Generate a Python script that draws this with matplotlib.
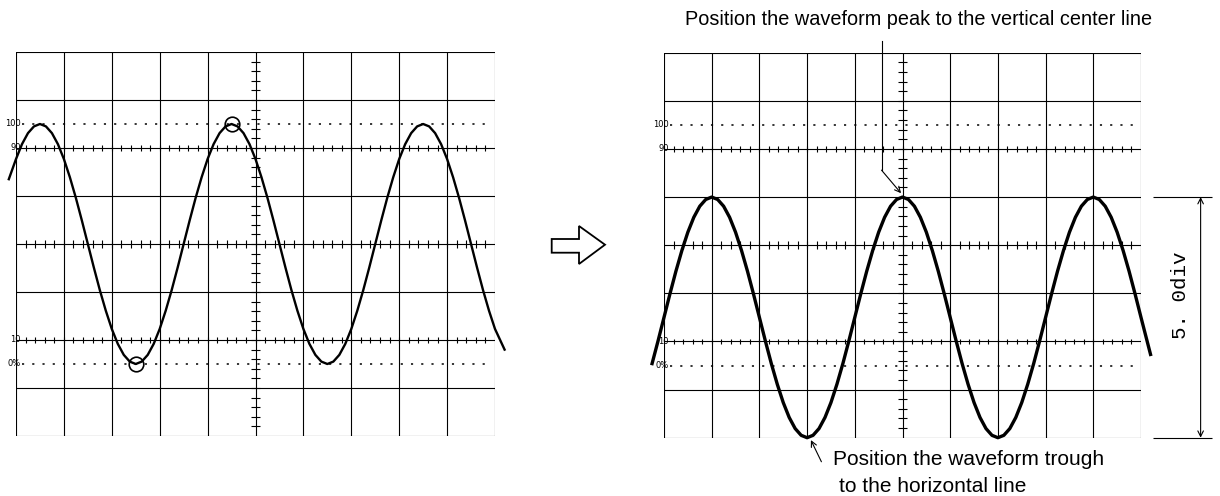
import matplotlib
matplotlib.use("Agg")
import numpy as np
import matplotlib.pyplot as plt
from matplotlib.patches import Polygon

# Oscilloscope screen: 10 x 8 divisions, y in div from the centre line
n_xdiv = 10
n_ydiv = 8

level_labels = ["100", "90", "10", "0%"]
level_values = [2.5, 2.0, -2.0, -2.5]

# left screen, waveform before adjustment (read at 1/8 div steps)
left_x = [-0.15,
          0.0, 0.125, 0.25, 0.375, 0.5, 0.625, 0.75, 0.875,
          1.0, 1.125, 1.25, 1.375, 1.5, 1.625, 1.75, 1.875,
          2.0, 2.125, 2.25, 2.375, 2.5, 2.625, 2.75, 2.875,
          3.0, 3.125, 3.25, 3.375, 3.5, 3.625, 3.75, 3.875,
          4.0, 4.125, 4.25, 4.375, 4.5, 4.625, 4.75, 4.875,
          5.0, 5.125, 5.25, 5.375, 5.5, 5.625, 5.75, 5.875,
          6.0, 6.125, 6.25, 6.375, 6.5, 6.625, 6.75, 6.875,
          7.0, 7.125, 7.25, 7.375, 7.5, 7.625, 7.75, 7.875,
          8.0, 8.125, 8.25, 8.375, 8.5, 8.625, 8.75, 8.875,
          9.0, 9.125, 9.25, 9.375, 9.5, 9.625, 9.75, 9.875,
          10.0, 10.2]
left_y = [1.35,
          1.77, 2.08, 2.31, 2.45, 2.5, 2.45, 2.31, 2.08,
          1.77, 1.39, 0.96, 0.49, 0.0, -0.49, -0.96, -1.39,
          -1.77, -2.08, -2.31, -2.45, -2.5, -2.45, -2.31, -2.08,
          -1.77, -1.39, -0.96, -0.49, 0.0, 0.49, 0.96, 1.39,
          1.77, 2.08, 2.31, 2.45, 2.5, 2.45, 2.31, 2.08,
          1.77, 1.39, 0.96, 0.49, 0.0, -0.49, -0.96, -1.39,
          -1.77, -2.08, -2.31, -2.45, -2.5, -2.45, -2.31, -2.08,
          -1.77, -1.39, -0.96, -0.49, 0.0, 0.49, 0.96, 1.39,
          1.77, 2.08, 2.31, 2.45, 2.5, 2.45, 2.31, 2.08,
          1.77, 1.39, 0.96, 0.49, 0.0, -0.49, -0.96, -1.39,
          -1.77, -2.2]

# circled peak / trough on the left screen
circle_x = [4.5, 2.5]
circle_y = [2.5, -2.5]

# right screen, waveform after adjustment
right_x = [-0.25, -0.125,
           0.0, 0.125, 0.25, 0.375, 0.5, 0.625, 0.75, 0.875,
           1.0, 1.125, 1.25, 1.375, 1.5, 1.625, 1.75, 1.875,
           2.0, 2.125, 2.25, 2.375, 2.5, 2.625, 2.75, 2.875,
           3.0, 3.125, 3.25, 3.375, 3.5, 3.625, 3.75, 3.875,
           4.0, 4.125, 4.25, 4.375, 4.5, 4.625, 4.75, 4.875,
           5.0, 5.125, 5.25, 5.375, 5.5, 5.625, 5.75, 5.875,
           6.0, 6.125, 6.25, 6.375, 6.5, 6.625, 6.75, 6.875,
           7.0, 7.125, 7.25, 7.375, 7.5, 7.625, 7.75, 7.875,
           8.0, 8.125, 8.25, 8.375, 8.5, 8.625, 8.75, 8.875,
           9.0, 9.125, 9.25, 9.375, 9.5, 9.625, 9.75, 9.875,
           10.0, 10.2]
right_y = [-2.46, -1.99,
           -1.5, -1.01, -0.54, -0.11, 0.27, 0.58, 0.81, 0.95,
           1.0, 0.95, 0.81, 0.58, 0.27, -0.11, -0.54, -1.01,
           -1.5, -1.99, -2.46, -2.89, -3.27, -3.58, -3.81, -3.95,
           -4.0, -3.95, -3.81, -3.58, -3.27, -2.89, -2.46, -1.99,
           -1.5, -1.01, -0.54, -0.11, 0.27, 0.58, 0.81, 0.95,
           1.0, 0.95, 0.81, 0.58, 0.27, -0.11, -0.54, -1.01,
           -1.5, -1.99, -2.46, -2.89, -3.27, -3.58, -3.81, -3.95,
           -4.0, -3.95, -3.81, -3.58, -3.27, -2.89, -2.46, -1.99,
           -1.5, -1.01, -0.54, -0.11, 0.27, 0.58, 0.81, 0.95,
           1.0, 0.95, 0.81, 0.58, 0.27, -0.11, -0.54, -1.01,
           -1.5, -2.27]

peak_text = "Position the waveform peak to the vertical center line"
trough_text_1 = "Position the waveform trough"
trough_text_2 = "to the horizontal line"
span_text = "5. 0div"

plt.rcParams["font.family"] = ["Liberation Sans", "DejaVu Sans"]

W, H = 1220, 496
fig = plt.figure(figsize=(W / 100, H / 100), dpi=100)


def px_axes(x0, y0, x1, y1):
    # rectangle given in picture pixels (top-left origin)
    return fig.add_axes([x0 / W, 1 - y1 / H, (x1 - x0) / W, (y1 - y0) / H])


def draw_graticule(ax):
    half = n_ydiv / 2
    ax.set_xlim(0, n_xdiv)
    ax.set_ylim(-half, half)
    ax.axis("off")
    for gx in range(n_xdiv + 1):
        ax.plot([gx, gx], [-half, half], color="black", lw=0.8)
    for gy in range(-int(half), int(half) + 1):
        ax.plot([0, n_xdiv], [gy, gy], color="black", lw=0.8)
    tx = np.arange(0.2, n_xdiv, 0.2)
    ty = np.arange(-half + 0.2, half, 0.2)
    ax.vlines(tx, -0.085, 0.085, color="black", lw=0.8)
    ax.hlines(ty, n_xdiv / 2 - 0.085, n_xdiv / 2 + 0.085, color="black", lw=0.8)
    for lv in (2.0, -2.0):
        ax.vlines(tx, lv - 0.06, lv + 0.06, color="black", lw=0.8)
    ax.hlines([2.5, -2.5], 0.12, n_xdiv - 0.1, color="black", lw=1.1,
              linestyles=(0, (1.4, 5.3)))
    for lab, lv in zip(level_labels, level_values):
        ax.text(0.1, lv, lab, ha="right", va="center", fontsize=6,
                family="DejaVu Sans", clip_on=False)


# ---- left screen
ax_l = px_axes(16, 52, 495, 436)
draw_graticule(ax_l)
ax_l.plot(left_x, left_y, color="black", lw=1.7, clip_on=False,
          solid_joinstyle="round")
ax_l.plot(circle_x, circle_y, "o", mfc="none", mec="black", ms=10.5, mew=1.2)

# ---- right screen
ax_r = px_axes(664, 52.7, 1141, 437.7)
draw_graticule(ax_r)
ax_r.plot(right_x, right_y, color="black", lw=2.4, clip_on=False,
          solid_joinstyle="round")

peak_level = max(right_y)
trough_level = min(right_y)

ax_r.text(5.33, 4.68, peak_text, ha="center", va="center", fontsize=14.3,
          clip_on=False)
ax_r.plot([4.56, 4.56], [4.24, 1.56], color="black", lw=0.8, clip_on=False)
ax_r.annotate("", xy=(4.97, peak_level + 0.08), xytext=(4.56, 1.56),
              arrowprops=dict(arrowstyle="->", lw=0.8, color="black",
                              shrinkA=0, shrinkB=0), annotation_clip=False)

ax_r.text(3.54, -4.46, trough_text_1, ha="left", va="center", fontsize=15,
          clip_on=False)
ax_r.text(3.67, -5.02, trough_text_2, ha="left", va="center", fontsize=15,
          clip_on=False)
ax_r.annotate("", xy=(3.08, trough_level - 0.05), xytext=(3.30, -4.50),
              arrowprops=dict(arrowstyle="->", lw=0.8, color="black",
                              shrinkA=0, shrinkB=0), annotation_clip=False)

# 5 div span marker
ax_r.hlines([peak_level, trough_level], 10.25, 11.48, color="black", lw=0.8,
            clip_on=False)
ax_r.annotate("", xy=(11.25, peak_level), xytext=(11.25, trough_level),
              arrowprops=dict(arrowstyle="<->", lw=0.8, color="black",
                              shrinkA=0, shrinkB=0), annotation_clip=False)
ax_r.text(10.82, -1.05, span_text, rotation=90, ha="center", va="center",
          fontsize=15, family="Liberation Mono", clip_on=False)

# ---- hollow arrow between the screens
ax_o = fig.add_axes([0, 0, 1, 1], zorder=-1)
ax_o.set_xlim(0, W)
ax_o.set_ylim(H, 0)
ax_o.axis("off")
arrow = [(551.7, 239), (579, 239), (579, 226), (605, 244.7),
         (579, 264), (579, 252.7), (551.7, 252.7)]
ax_o.add_patch(Polygon(arrow, closed=True, facecolor="white",
                       edgecolor="black", lw=1.3))

fig.savefig("out.png", dpi=100)
